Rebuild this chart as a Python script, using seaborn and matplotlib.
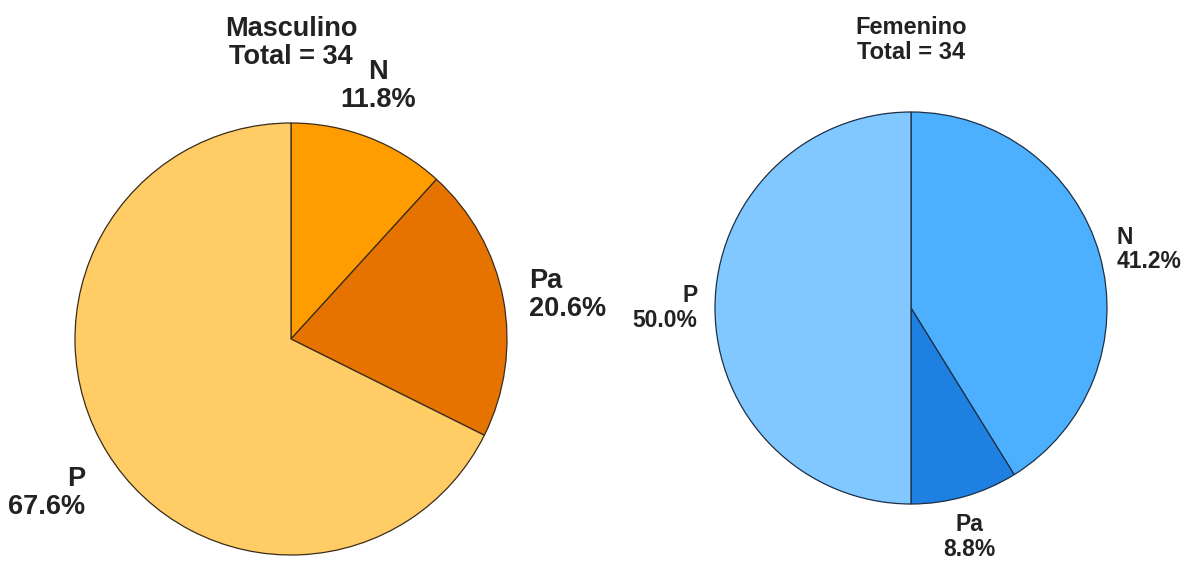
import numpy as np
import matplotlib
matplotlib.use("Agg")
import matplotlib.pyplot as plt
import seaborn as sns

# data
categories = ["N", "Pa", "P"]
masculino_counts = [4, 7, 23]
femenino_counts = [14, 3, 17]
masculino_colors = ["#FF9C00", "#E67300", "#FFCC66"]
femenino_colors = ["#4DB0FF", "#1E80E0", "#80C8FF"]

sns.set_style("white")
plt.rcParams["font.family"] = ["Liberation Sans", "DejaVu Sans"]
TXT = "#222222"

W, H = 1192, 565
fig = plt.figure(figsize=(W / 100, H / 100), dpi=100)


def add_pie(cx, cy, r, counts, colors, title, title_y, title_size, label_size, dist, edge):
    ax = fig.add_axes([(cx - r) / W, (H - cy - r) / H, 2 * r / W, 2 * r / H])
    wedges, _ = ax.pie(counts, colors=colors, startangle=90, counterclock=False,
                       wedgeprops=dict(edgecolor=edge, linewidth=0.9))
    ax.set_xlim(-1, 1)
    ax.set_ylim(-1, 1)
    ax.set_aspect("equal")
    ax.axis("off")
    total = sum(counts)
    for w, cat, n in zip(wedges, categories, counts):
        mid = np.deg2rad((w.theta1 + w.theta2) / 2)
        c, s = np.cos(mid), np.sin(mid)
        if abs(c) < 0.45:
            ha = "center"
            va = "bottom" if s > 0 else "top"
        else:
            ha = "left" if c > 0 else "right"
            va = "center" if abs(s) < 0.4 else ("bottom" if s > 0 else "top")
        ax.text(dist * c, dist * s, f"{cat}\n{100 * n / total:.1f}%",
                ha=ha, va=va, multialignment=ha, fontsize=label_size,
                fontweight="bold", color=TXT, linespacing=1.1)
    fig.text(cx / W, 1 - title_y / H, f"{title}\nTotal = {total}", ha="center", va="center",
             fontsize=title_size, fontweight="bold", color=TXT, linespacing=1.1)


add_pie(291, 339, 216, masculino_counts, masculino_colors, "Masculino", 43, 19.5, 19.5, 1.12, "#3a2c1a")
add_pie(911, 308, 196, femenino_counts, femenino_colors, "Femenino", 40, 17, 16.5, 1.09, "#1f2f44")

fig.savefig("out.png", dpi=100, facecolor="white")
